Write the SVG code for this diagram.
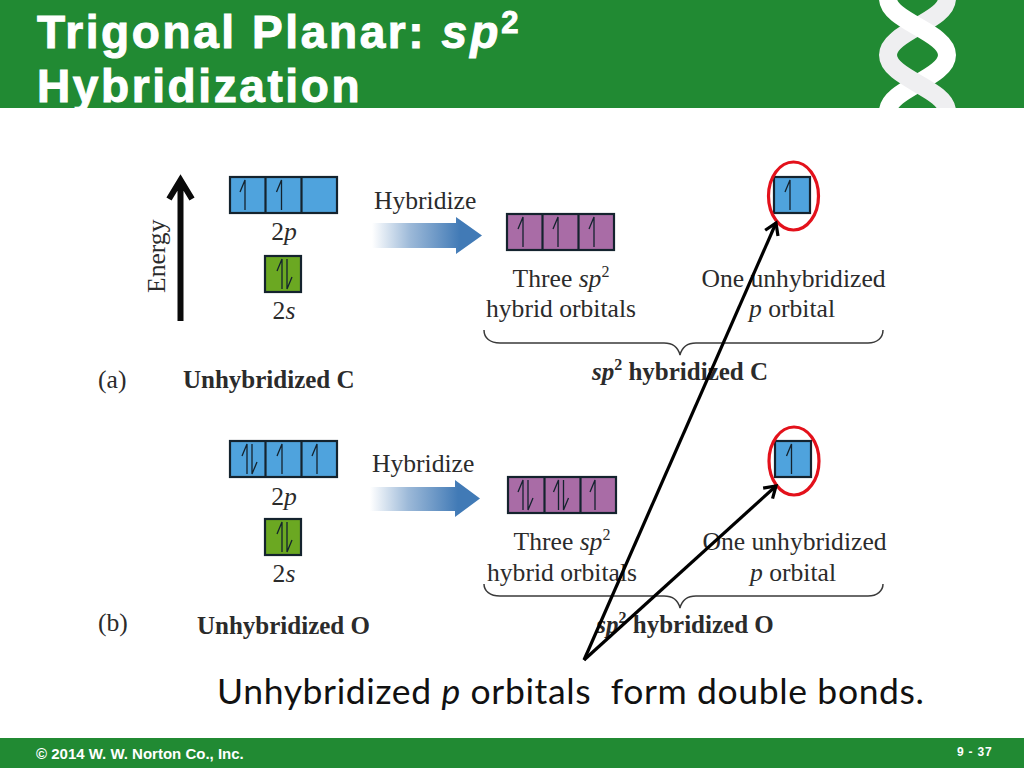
<svg xmlns="http://www.w3.org/2000/svg" width="1024" height="768" viewBox="0 0 1024 768">
<style>
.s{font-family:"Liberation Serif",serif;font-size:25.6px;fill:#2b2b2b}
.b{font-weight:bold;font-size:25px}
.i{font-style:italic}
.m{text-anchor:middle}
.t{font-family:"Liberation Sans",Arial,sans-serif;font-weight:bold;font-size:46px;fill:#fff;stroke:#fff;stroke-width:1;letter-spacing:2.6px}
.f{font-family:"Liberation Sans",Arial,sans-serif;font-weight:bold;fill:#fff}
.box{stroke:#14232e;stroke-width:2.2}
.blue{fill:#4fa3dd}
.green{fill:#6ba822}
.purple{fill:#a96ca6}
.e{fill:none;stroke:#14232e;stroke-width:1.3}
.ring{fill:none;stroke:#e3111b;stroke-width:3.2}
.brace{fill:none;stroke:#3a3a3a;stroke-width:1.5}
.line{fill:none;stroke:#000;stroke-width:3.2;marker-end:url(#open)}
</style>
<defs>
<marker id="open" markerUnits="userSpaceOnUse" markerWidth="24" markerHeight="24" refX="13" refY="12" orient="auto">
<path d="M2 5 L13 12 L2 19" fill="none" stroke="#000" stroke-width="3.2"/>
</marker>
<linearGradient id="fade" x1="0" x2="1" y1="0" y2="0">
<stop offset="0" stop-color="#4a7fb8" stop-opacity="0"/>
<stop offset="0.35" stop-color="#4a7fb8" stop-opacity="0.55"/>
<stop offset="0.8" stop-color="#417ab6"/>
<stop offset="1" stop-color="#417ab6"/>
</linearGradient>
<clipPath id="hdr"><rect x="0" y="0" width="1024" height="108"/></clipPath>
<path id="up" class="e" d="M0 15 V-15 L-5 -3"/>
<path id="down" class="e" d="M0 -15 V15 L5 3"/>
<g id="pair"><use href="#up" x="-3"/><use href="#down" x="2"/></g>
</defs>
<rect width="1024" height="768" fill="#fff"/>
<g id="header">
<rect width="1024" height="108" fill="#218a33"/>
<g clip-path="url(#hdr)" fill="none" stroke-width="18">
<path stroke="#efeff1" d="M947 -1.500 C947 21 888 32 888 55"/>
<path stroke="#fff" d="M947 55 C947 78 888 89 888 111.500"/>
<path stroke="#fff" d="M888 -1.500 C888 21 947 32 947 55"/>
<path stroke="#efeff1" d="M888 55 C888 78 947 89 947 111.500"/>
</g>
<text class="t" x="37" y="48">Trigonal Planar: <tspan class="i" letter-spacing="3">sp</tspan><tspan font-size="31" dy="-15">2</tspan></text>
<text class="t" x="37" y="102">Hybridization</text>
</g>
<g id="energy">
<path d="M180.500 321 V180 M169 199 L180.500 180 L192 199" fill="none" stroke="#0a0a0a" stroke-width="6"/>
<text class="s" transform="translate(165 293) rotate(-90)" font-size="26">Energy</text>
</g>
<g id="unhybridized-c">
<g id="c-2p">
<rect class="box blue" x="230" y="177" width="107" height="36"/>
<path class="box" d="M265.500 177V213M301.500 177V213"/>
<use href="#up" x="245" y="195"/><use href="#up" x="281.500" y="195"/>
<text class="s m" x="284" y="240">2<tspan class="i">p</tspan></text>
</g>
<g id="c-2s">
<rect class="box green" x="265" y="256" width="36" height="36"/>
<use href="#pair" x="285" y="274"/>
<text class="s m" x="284" y="319">2<tspan class="i">s</tspan></text>
</g>
<text class="s" x="98" y="388">(a)</text>
<text class="s b" x="183" y="388">Unhybridized C</text>
</g>
<g id="hybridize-c">
<text class="s" x="374" y="209">Hybridize</text>
<path fill="url(#fade)" d="M372 223H456V217L482 235.500L456 254V248H372Z"/>
</g>
<g id="sp2-c">
<rect class="box purple" x="507" y="214" width="107" height="36"/>
<path class="box" d="M542.500 214V250M578.500 214V250"/>
<use href="#up" x="523" y="232"/><use href="#up" x="558" y="232"/><use href="#up" x="594" y="232"/>
<text class="s m" x="561" y="287">Three <tspan class="i">sp</tspan><tspan font-size="16" dy="-10">2</tspan></text>
<text class="s m" x="561" y="317">hybrid orbitals</text>
</g>
<g id="p-c">
<rect class="box blue" x="774" y="177" width="36" height="36"/>
<use href="#up" x="790" y="195"/>
<ellipse class="ring" cx="793.500" cy="196" rx="25" ry="34"/>
<text class="s m" x="793.500" y="287">One unhybridized</text>
<text class="s m" x="792" y="317"><tspan class="i">p</tspan> orbital</text>
</g>
<g id="brace-c">
<path class="brace" d="M484 330C484 338 490 343 500 343H664C672 343 678 347 680 355C682 347 688 343 696 343H868C877 343 883 338 883 330"/>
<text class="s b m" x="680" y="380"><tspan class="i">sp</tspan><tspan font-size="16" dy="-10">2</tspan><tspan dy="10"> hybridized C</tspan></text>
</g>
<g id="unhybridized-o">
<g id="o-2p">
<rect class="box blue" x="230" y="441" width="107" height="36"/>
<path class="box" d="M265.500 441V477M301.500 441V477"/>
<use href="#pair" x="250" y="459"/><use href="#up" x="282" y="459"/><use href="#up" x="317" y="459"/>
<text class="s m" x="284" y="505">2<tspan class="i">p</tspan></text>
</g>
<g id="o-2s">
<rect class="box green" x="265" y="519" width="36" height="36"/>
<use href="#pair" x="285" y="537"/>
<text class="s m" x="284" y="582">2<tspan class="i">s</tspan></text>
</g>
<text class="s" x="98" y="631">(b)</text>
<text class="s b" x="197" y="634">Unhybridized O</text>
</g>
<g id="hybridize-o">
<text class="s" x="372" y="472">Hybridize</text>
<path fill="url(#fade)" d="M370 487H455V480L480 498.500L455 517V511H370Z"/>
</g>
<g id="sp2-o">
<rect class="box purple" x="508" y="477" width="108" height="36"/>
<path class="box" d="M544.500 477V513M580.500 477V513"/>
<use href="#pair" x="526" y="495"/><use href="#pair" x="561.500" y="495"/><use href="#up" x="595" y="495"/>
<text class="s m" x="562" y="550">Three <tspan class="i">sp</tspan><tspan font-size="16" dy="-10">2</tspan></text>
<text class="s m" x="562" y="581">hybrid orbitals</text>
</g>
<g id="p-o">
<rect class="box blue" x="775" y="441" width="36" height="36"/>
<use href="#up" x="791.500" y="459"/>
<ellipse class="ring" cx="794" cy="461" rx="25" ry="34"/>
<text class="s m" x="794.500" y="550">One unhybridized</text>
<text class="s m" x="793" y="581"><tspan class="i">p</tspan> orbital</text>
</g>
<g id="brace-o">
<path class="brace" d="M484 584C484 591 490 596 500 596H664C672 596 678 600 680 608C682 600 688 596 696 596H868C877 596 883 591 883 584"/>
<text class="s b m" x="685" y="633"><tspan class="i">sp</tspan><tspan font-size="16" dy="-10">2</tspan><tspan dy="10"> hybridized O</tspan></text>
</g>
<g id="connectors">
<path class="line" d="M584 660L776 223"/>
<path class="line" d="M584 660L776 486"/>
</g>
<g id="caption">
<text x="217" y="703.500" font-family="Lato,sans-serif" font-size="35.500" fill="#111" xml:space="preserve" textLength="707" lengthAdjust="spacing">Unhybridized <tspan font-style="italic">p</tspan> orbitals  form double bonds.</text>
</g>
<g id="footer">
<rect y="738" width="1024" height="30" fill="#218a33"/>
<text class="f" x="36" y="759" font-size="15">© 2014 W. W. Norton Co., Inc.</text>
<text class="f" x="957" y="756" font-size="12" letter-spacing="0.800">9 - 37</text>
</g>
</svg>
